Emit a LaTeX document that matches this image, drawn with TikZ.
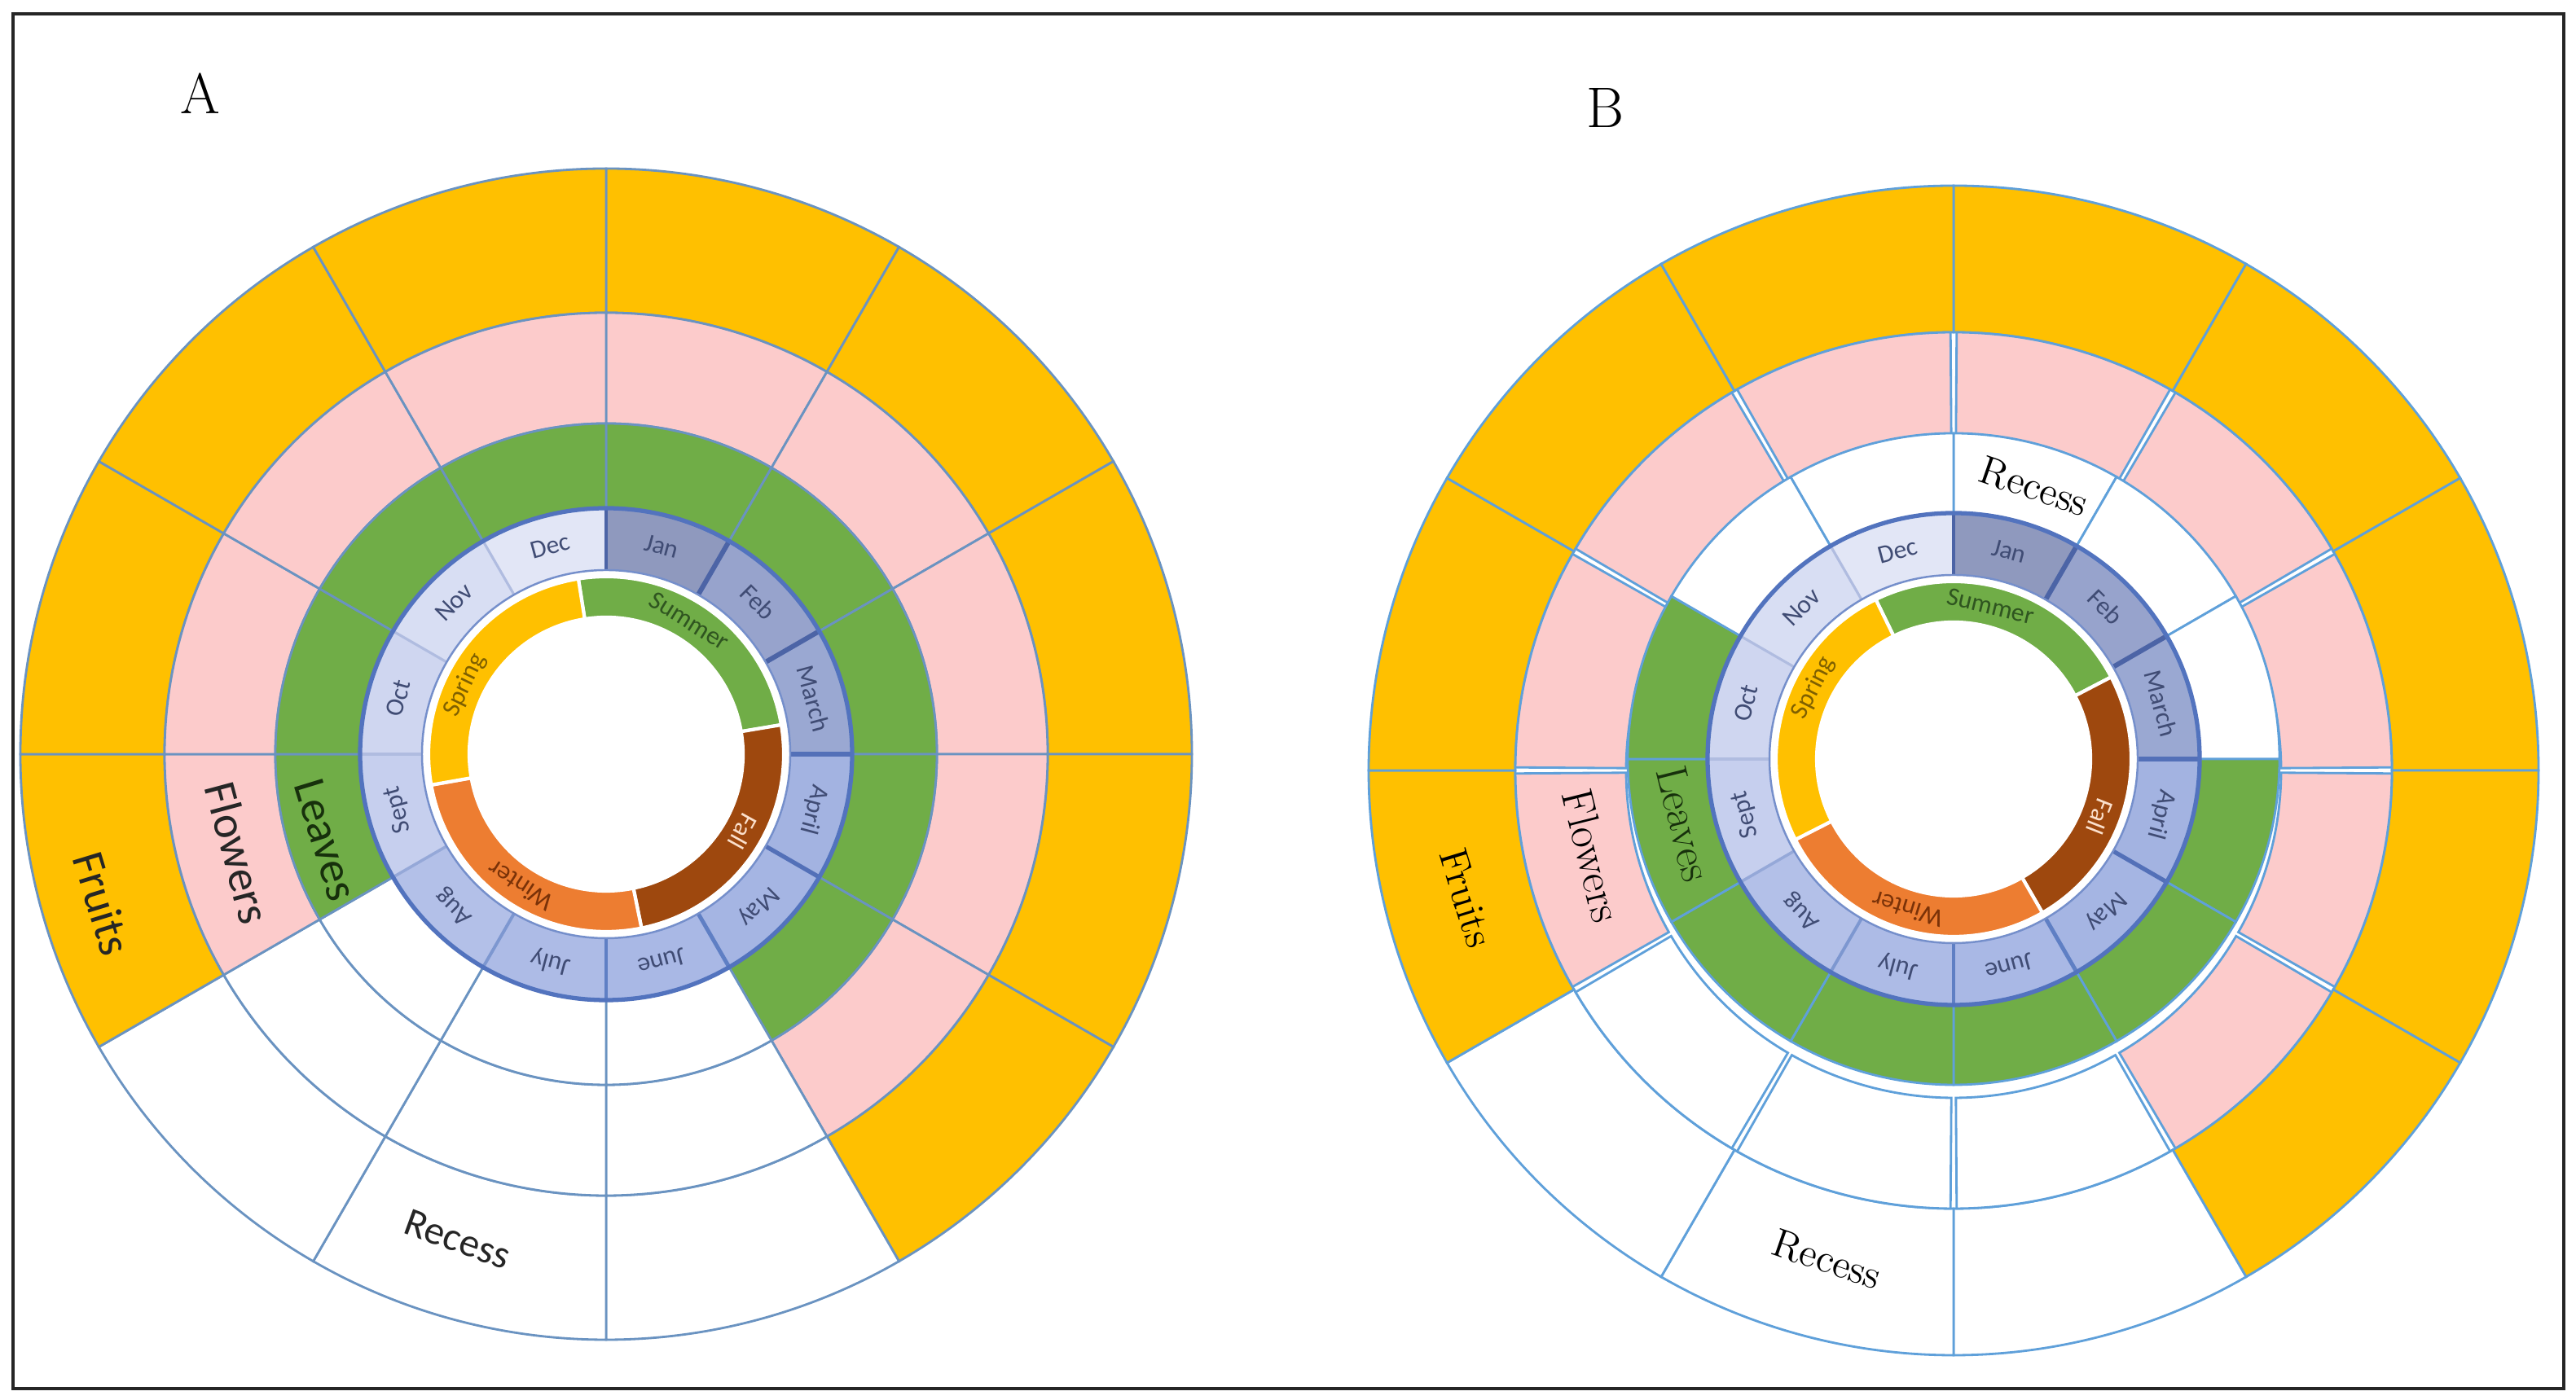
\documentclass[tikz,border=0pt]{standalone}
\usepackage{fontspec}
\newfontfamily\calib{Carlito}
\usetikzlibrary{calc}

\definecolor{fruit}{HTML}{FFC000}
\definecolor{flower}{HTML}{FCCBCB}
\definecolor{leaf}{HTML}{70AD47}
\definecolor{lineA}{HTML}{6A93C1}
\definecolor{lineB}{HTML}{5FA0DA}
\definecolor{mborder}{HTML}{5273BE}
\definecolor{mtext}{HTML}{404C74}
\definecolor{mJan}{HTML}{8F99BE}
\definecolor{mFeb}{HTML}{97A3CC}
\definecolor{mMar}{HTML}{9AA8D2}
\definecolor{mApr}{HTML}{A3B3E1}
\definecolor{mMay}{HTML}{A5B5E3}
\definecolor{mJun}{HTML}{A9B8E5}
\definecolor{mJul}{HTML}{ADBBE6}
\definecolor{mAug}{HTML}{B3C0E8}
\definecolor{mSep}{HTML}{C6CFEE}
\definecolor{mOct}{HTML}{CFD6F0}
\definecolor{mNov}{HTML}{D8DEF3}
\definecolor{mDec}{HTML}{E2E6F6}
\definecolor{dA}{HTML}{4C64A6}
\definecolor{dB}{HTML}{5370B8}
\definecolor{dC}{HTML}{5F7FC4}
\definecolor{dD}{HTML}{7D97D0}
\definecolor{dE}{HTML}{95A8D8}
\definecolor{dF}{HTML}{B0BCE0}
\definecolor{sSummer}{HTML}{70AD47}
\definecolor{sSpring}{HTML}{FFC000}
\definecolor{sFall}{HTML}{9E480E}
\definecolor{sWinter}{HTML}{ED7D31}
\definecolor{tSummer}{HTML}{2F5520}
\definecolor{tSpring}{HTML}{7F6000}
\definecolor{tFall}{HTML}{FBE0CC}
\definecolor{tWinter}{HTML}{7A3208}
\definecolor{tLeaf}{HTML}{17300C}

% annular sector: start angle, end angle, inner r (mm), outer r (mm), style
\newcommand\sect[5]{\path[#5] (#1:#3mm) arc[start angle=#1,end angle=#2,radius=#3mm] -- (#2:#4mm) arc[start angle=#2,end angle=#1,radius=#4mm] -- cycle;}

\newcommand\monthring[1]{%
  \foreach \i/\c in {0/mJan,1/mFeb,2/mMar,3/mApr,4/mMay,5/mJun,6/mJul,7/mAug,8/mSep,9/mOct,10/mNov,11/mDec}{%
    \pgfmathsetmacro\a{90-30*\i}\pgfmathsetmacro\b{60-30*\i}%
    \sect{\a}{\b}{22.6}{30.2}{fill=\c}%
  }
  \foreach \ang/\col/\w in {90/dA/1.4,60/dA/1.7,30/dA/1.7,0/dB/1.7,-30/dB/1.5,-60/dC/1.4,-90/dC/1.3,-120/dD/1.1,-150/dE/1.0,-180/dF/0.9,-210/dF/0.9,-240/dF/0.9}{%
    \draw[\col, line width=\w pt] (\ang:22.6mm) -- (\ang:30.2mm);
  }
  \draw[mborder, line width=1.5pt] (0,0) circle[radius=30.2mm];
  \draw[mborder!80, line width=0.7pt] (0,0) circle[radius=22.6mm];
  \foreach \i/\n in {0/Jan,1/Feb,2/March,3/April,4/May,5/June,6/July,7/Aug,8/Sept,9/Oct,10/Nov,11/Dec}{%
    \pgfmathsetmacro\m{75-30*\i}\pgfmathsetmacro\r{\m-90}%
    \node[monthlbl, rotate=\r] (#1m\i) at (\m:26.4mm) {\n};
  }
}

\begin{document}
\begin{tikzpicture}[x=1mm,y=1mm,
  monthlbl/.style={font=\calib\fontsize{9}{10}\selectfont, text=mtext, inner sep=0pt},
  seasonlbl/.style={font=\calib\fontsize{9}{10}\selectfont, inner sep=0pt},
  biglblA/.style={font=\calib\fontsize{14}{16}\selectfont, inner sep=0pt},
  sidelblA/.style={font=\calib\fontsize{16}{18}\selectfont, inner sep=0pt},
  biglblB/.style={font=\fontsize{14}{16}\selectfont, inner sep=0pt},
  sidelblB/.style={font=\fontsize{15.5}{18}\selectfont, inner sep=0pt},
  panel/.style={font=\fontsize{20}{24}\selectfont, inner sep=0pt},
  secA/.style={draw=lineA, line width=0.8pt},
  secB/.style={draw=lineB, line width=0.8pt},
  seas/.style={draw=white, line width=1.2pt}]

\useasboundingbox (0,0) rectangle (316.2,171.9);
\fill[white] (0,0) rectangle (316.2,171.9);

% ---------------- Diagram A ----------------
\begin{scope}[shift={(74.4,79.3)}]
  \foreach \i/\cf/\cp/\cl in {0/fruit/flower/leaf,1/fruit/flower/leaf,2/fruit/flower/leaf,3/fruit/flower/leaf,4/fruit/flower/leaf,5/white/white/white,6/white/white/white,7/white/white/white,8/fruit/flower/leaf,9/fruit/flower/leaf,10/fruit/flower/leaf,11/fruit/flower/leaf}{%
    \pgfmathsetmacro\a{90-30*\i}\pgfmathsetmacro\b{60-30*\i}%
    \sect{\a}{\b}{54.2}{71.9}{fill=\cf, secA}%
    \sect{\a}{\b}{40.6}{54.2}{fill=\cp, secA}%
    \sect{\a}{\b}{30.2}{40.6}{fill=\cl, secA}%
  }
  \monthring{A}
  \sect{99}{9.5}{16.8}{21.8}{fill=sSummer, seas}
  \sect{9.5}{-78.5}{16.8}{21.8}{fill=sFall, seas}
  \sect{-78.5}{-170}{16.8}{21.8}{fill=sWinter, seas}
  \sect{190}{99}{16.8}{21.8}{fill=sSpring, seas}
  \node[seasonlbl, text=tSummer, rotate=-32] (A-summer) at (58:19.3mm) {Summer};
  \node[seasonlbl, text=tSpring, rotate=64] (A-spring) at (154:19.3mm) {Spring};
  \node[seasonlbl, text=tFall, rotate=-119] (A-fall) at (-29.5:19.3mm) {Fall};
  \node[seasonlbl, text=tWinter, rotate=147] (A-winter) at (-123:19.3mm) {Winter};
  \node[sidelblA, text=black!85, rotate=-73] (A-fruits) at (196.5:64.5mm) {Fruits};
  \node[sidelblA, text=black!85, rotate=-75] (A-flowers) at (195:46.8mm) {Flowers};
  \node[sidelblA, text=tLeaf, rotate=-73] (A-leaves) at (197:36.0mm) {Leaves};
  \node[biglblA, text=black!85, rotate=-20] (A-recess) at (253:62.3mm) {Recess};
\end{scope}

% ---------------- Diagram B ----------------
\begin{scope}[shift={(239.8,77.3)}]
  \foreach \i/\cf/\cp in {0/fruit/flower,1/fruit/flower,2/fruit/flower,3/fruit/flower,4/fruit/flower,5/white/white,6/white/white,7/white/white,8/fruit/flower,9/fruit/flower,10/fruit/flower,11/fruit/flower}{%
    \pgfmathsetmacro\a{90-30*\i}\pgfmathsetmacro\b{60-30*\i}%
    \pgfmathsetmacro\aa{\a-0.4}\pgfmathsetmacro\bb{\b+0.4}%
    \sect{\a}{\b}{53.8}{71.8}{fill=\cf, secB}%
    \sect{\aa}{\bb}{40.2}{53.8}{fill=\cp, secB}%
  }
  \node[biglblB, rotate=-73] (B-fruits) at (194.7:61.8mm) {Fruits};
  \node[sidelblB, rotate=-76] (B-flowers) at (193.3:45.6mm) {Flowers};
  \node[biglblB, rotate=-19] (B-recess2) at (255.5:62mm) {Recess};
\end{scope}
\begin{scope}[shift={(239.8,78.7)}]
  \foreach \i/\cl in {0/white,1/white,2/white,3/leaf,4/leaf,5/leaf,6/leaf,7/leaf,8/leaf,9/leaf,10/white,11/white}{%
    \pgfmathsetmacro\a{90-30*\i}\pgfmathsetmacro\b{60-30*\i}%
    \sect{\a}{\b}{30.2}{40.0}{fill=\cl, secB}%
  }
  \monthring{B}
  \sect{116}{27.5}{16.8}{21.8}{fill=sSummer, seas}
  \sect{27.5}{-60}{16.8}{21.8}{fill=sFall, seas}
  \sect{-60}{-153}{16.8}{21.8}{fill=sWinter, seas}
  \sect{207}{116}{16.8}{21.8}{fill=sSpring, seas}
  \node[seasonlbl, text=tSummer, rotate=-13.6] (B-summer) at (76.4:19.3mm) {Summer};
  \node[seasonlbl, text=tSpring, rotate=63] (B-spring) at (153:19.3mm) {Spring};
  \node[seasonlbl, text=tFall, rotate=-111.5] (B-fall) at (-21.5:19.3mm) {Fall};
  \node[seasonlbl, text=tWinter, rotate=163] (B-winter) at (-107:19.3mm) {Winter};
  \node[sidelblB, text=tLeaf, rotate=-76] (B-leaves) at (193.5:34.0mm) {Leaves};
  \node[biglblB, rotate=-19] (B-recess1) at (73.5:34.9mm) {Recess};
\end{scope}

% panel labels and frame
\node[panel] (labA) at (24.6,160.4) {A};
\node[panel] (labB) at (197,158.6) {B};
\draw[line width=1.1pt, black!85] (1.6,1.4) rectangle (314.7,170.2);
\end{tikzpicture}
\end{document}
